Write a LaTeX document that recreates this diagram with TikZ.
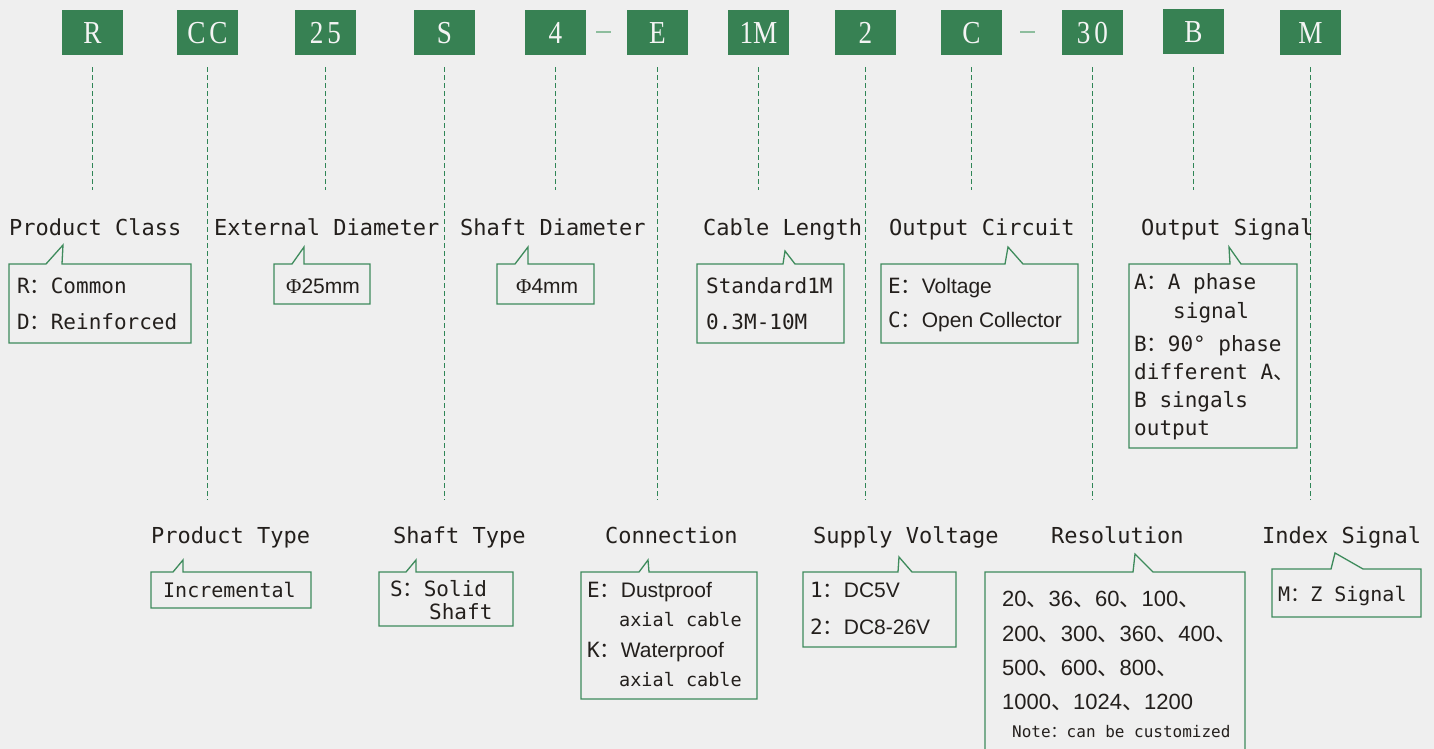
\documentclass[tikz,border=0pt]{standalone}
\usepackage{fontspec}
\setmainfont{DejaVu Sans Mono}
\newfontfamily\monof{DejaVu Sans Mono}
\newfontfamily\propf{Liberation Sans}
\newfontfamily\cjkf{Noto Sans CJK SC}
\newfontfamily\topf[FakeStretch=0.85]{Liberation Serif}
\newfontfamily\topfs[FakeStretch=0.85,LetterSpace=12]{Liberation Serif}
\newfontfamily\phif{Liberation Serif}
\newcommand{\fwc}{{\cjkf ：}}
\newcommand{\dun}{{\cjkf 、}}
\definecolor{bg}{HTML}{EFEFEF}
\definecolor{gbox}{HTML}{378153}
\definecolor{gline}{HTML}{3E8B5C}
\definecolor{gdash}{HTML}{2F8556}
\definecolor{gsep}{HTML}{8DBD9D}
\definecolor{txt}{HTML}{231F1C}
\definecolor{wtxt}{HTML}{F4F4F4}
\begin{document}
\begin{tikzpicture}[x=1pt,y=-1pt,
  topbox/.style={fill=gbox, text=wtxt, minimum width=61pt, minimum height=45pt, inner sep=0pt, text height=22pt, text depth=0pt, font=\topf\fontsize{32}{32}\selectfont},
  topboxs/.style={topbox, font=\topfs\fontsize{32}{32}\selectfont},
  lbl/.style={anchor=base west, inner sep=0pt, text=txt, font=\monof\fontsize{22}{22}\selectfont},
  bt/.style={anchor=base west, inner sep=0pt, text=txt, font=\monof\fontsize{21}{21}\selectfont},
  callout/.style={draw=gline, line width=1.3pt},
  dl/.style={draw=gdash, line width=1.4pt, dash pattern=on 4.5pt off 3.5pt},
  sepl/.style={draw=gsep, line width=2pt}]
\fill[bg] (0,0) rectangle (1434,749);
\useasboundingbox (0,0) rectangle (1434,749);

% code boxes
\node[topbox]  (r)   at (92.5,32.5)   {R};
\node[topboxs] (cc)  at (207.5,32.5)  {CC};
\node[topboxs] (d25) at (325.5,32.5)  {25};
\node[topbox]  (s)   at (444.5,32.5)  {S};
\node[topbox]  (n4)  at (555.5,32.5)  {4};
\node[topbox]  (e)   at (657.5,32.5)  {E};
\node[topbox]  (m1)  at (758.5,32.5)  {1M};
\node[topbox]  (n2)  at (865.5,32.5)  {2};
\node[topbox]  (c)   at (971.5,32.5)  {C};
\node[topboxs] (d30) at (1092.5,32.5) {30};
\node[topbox]  (b)   at (1193.5,31.5) {B};
\node[topbox]  (m)   at (1310.5,32.5) {M};

\draw[sepl] ([xshift=10pt]n4.east) -- ([xshift=-16pt]e.west);
\draw[sepl] ([xshift=18pt]c.east) -- ([xshift=-27pt]d30.west);

% dashed leaders
\coordinate (up) at (0,190);
\coordinate (lo) at (0,500);
\foreach \n in {r,d25,n4,m1,c}{
  \draw[dl] ([yshift=-12pt]\n.south) -- (\n.south |- up);
}
\draw[dl] ([yshift=-13pt]b.south) -- (b.south |- up);
\foreach \n in {cc,s,e,n2,d30,m}{
  \draw[dl] ([yshift=-12pt]\n.south) -- (\n.south |- lo);
}

% upper labels
\node[lbl] (lpc) at (9,235)    {Product Class};
\node[lbl] (led) at (214,235)  {External Diameter};
\node[lbl] (lsd) at (460,235)  {Shaft Diameter};
\node[lbl] (lcl) at (703,235)  {Cable Length};
\node[lbl] (loc) at (889,235)  {Output Circuit};
\node[lbl] (los) at (1141,235) {Output Signal};

% lower labels
\node[lbl] (lpt) at (151,543)  {Product Type};
\node[lbl] (lst) at (393,543)  {Shaft Type};
\node[lbl] (lcn) at (605,543)  {Connection};
\node[lbl] (lsv) at (813,543)  {Supply Voltage};
\node[lbl] (lrs) at (1051,543) {Resolution};
\node[lbl] (lis) at (1262,543) {Index Signal};

% callouts upper
\draw[callout] (9,264) -- (46,264) -- (63,245) -- (62,264) -- (191,264) -- (191,343) -- (9,343) -- cycle;
\draw[callout] (274,264) -- (292,264) -- (304,247) -- (304,264) -- (370,264) -- (370,304) -- (274,304) -- cycle;
\draw[callout] (497,264) -- (515,264) -- (528,247) -- (528,264) -- (594,264) -- (594,304) -- (497,304) -- cycle;
\draw[callout] (697,264) -- (783,264) -- (785,251) -- (795,264) -- (844,264) -- (844,343) -- (697,343) -- cycle;
\draw[callout] (881,264) -- (1005,264) -- (1008,247) -- (1023,264) -- (1078,264) -- (1078,343) -- (881,343) -- cycle;
\draw[callout] (1129,264) -- (1230,264) -- (1229,247) -- (1241,264) -- (1297,264) -- (1297,448) -- (1129,448) -- cycle;

% callouts lower
\draw[callout] (151,572) -- (173,572) -- (183,560) -- (183,572) -- (311,572) -- (311,608) -- (151,608) -- cycle;
\draw[callout] (379,572) -- (406,572) -- (416,560) -- (416,572) -- (513,572) -- (513,626) -- (379,626) -- cycle;
\draw[callout] (581,572) -- (639,572) -- (648,560) -- (649,572) -- (757,572) -- (757,699) -- (581,699) -- cycle;
\draw[callout] (803,572) -- (898,572) -- (899,557) -- (912,572) -- (956,572) -- (956,647) -- (803,647) -- cycle;
\draw[callout] (985,572) -- (1133,572) -- (1135,554) -- (1153,572) -- (1245,572) -- (1245,770) -- (985,770) -- cycle;
\draw[callout] (1272,569) -- (1331,569) -- (1335,553) -- (1363,569) -- (1421,569) -- (1421,617) -- (1272,617) -- cycle;

% box texts upper
\node[bt] (t1a) at (17,293) {R\fwc Common};
\node[bt] (t1b) at (17,329) {D\fwc Reinforced};
\node[bt] (t2)  at (286,293) {{\phif Φ}{\propf 25mm}};
\node[bt] (t3)  at (516,293) {{\phif Φ}{\propf 4mm}};
\node[bt] (t4a) at (706,293) {Standard1M};
\node[bt] (t4b) at (706,329) {0.3M-10M};
\node[bt] (t5a) at (888,293) {E\fwc{\propf Voltage}};
\node[bt] (t5b) at (888,327) {C\fwc{\propf Open Collector}};
\node[bt] (t6a) at (1134,289) {A\fwc A phase};
\node[bt] (t6b) at (1173,318) {signal};
\node[bt] (t6c) at (1134,351) {B\fwc 90° phase};
\node[bt] (t6d) at (1134,379) {different A\dun};
\node[bt] (t6e) at (1134,407) {B singals};
\node[bt] (t6f) at (1134,435) {output};

% box texts lower
\node[bt, font=\monof\fontsize{20}{20}\selectfont] (t7) at (163,597) {Incremental};
\node[bt] (t8a) at (390,596) {S\fwc Solid};
\node[bt] (t8b) at (429,619) {Shaft};
\node[bt] (t9a) at (587,597) {E\fwc{\propf Dustproof}};
\node[bt, font=\monof\fontsize{18.5}{18.5}\selectfont] (t9b) at (619,626) {axial cable};
\node[bt] (t9c) at (587,657) {K\fwc{\propf Waterproof}};
\node[bt, font=\monof\fontsize{18.5}{18.5}\selectfont] (t9d) at (619,686) {axial cable};
\node[bt] (t10a) at (810,597) {1\fwc{\propf DC5V}};
\node[bt] (t10b) at (810,634) {2\fwc{\propf DC8-26V}};
\node[bt, font=\propf\fontsize{22}{22}\selectfont] (t11a) at (1002,606) {20\dun 36\dun 60\dun 100\dun};
\node[bt, font=\propf\fontsize{22}{22}\selectfont] (t11b) at (1002,641) {200\dun 300\dun 360\dun 400\dun};
\node[bt, font=\propf\fontsize{22}{22}\selectfont] (t11c) at (1002,675) {500\dun 600\dun 800\dun};
\node[bt, font=\propf\fontsize{22}{22}\selectfont] (t11d) at (1002,709) {1000\dun 1024\dun 1200};
\node[bt, font=\monof\fontsize{16}{16}\selectfont] (t11e) at (1012,737) {Note\fwc can be customized};
\node[bt, font=\monof\fontsize{20}{20}\selectfont] (t12) at (1278,601) {M\fwc Z Signal};
\end{tikzpicture}
\end{document}
